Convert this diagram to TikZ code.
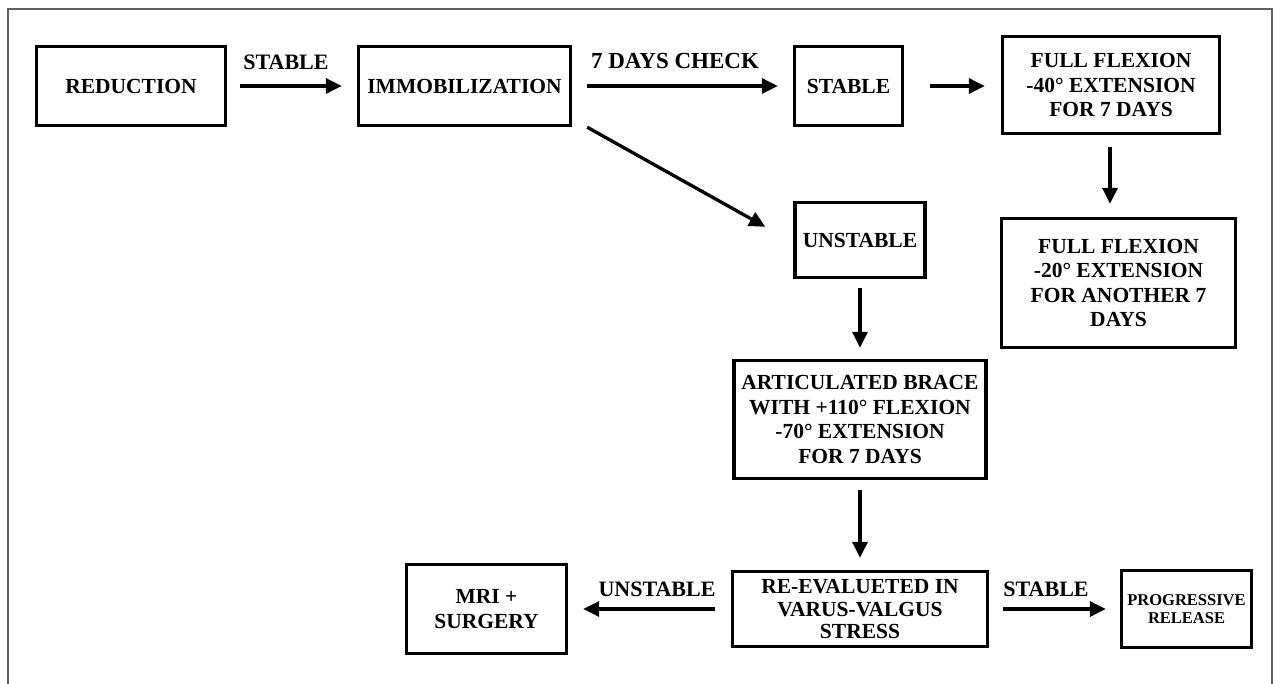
\documentclass[tikz,border=0pt]{standalone}
\usepackage{fontspec}
\setmainfont{Liberation Serif}
\usetikzlibrary{arrows.meta,calc}
\definecolor{framegray}{RGB}{95,95,95}
\begin{document}
\begin{tikzpicture}[x=1pt,y=-1pt,
  box/.style={draw,line width=3.4pt,align=center,inner sep=0pt,
    font=\bfseries\fontsize{21.5}{24.5}\selectfont},
  arr/.style={line width=3.3pt,-{Triangle[length=16pt,width=15pt]}},
  lbl/.style={font=\bfseries\fontsize{22}{24}\selectfont,inner sep=0pt}]
\useasboundingbox (0,0) rectangle (1274,683);
\draw[framegray,line width=1.5pt] (8,690) -- (8,9) -- (1272,9) -- (1272,690);

% boxes
\node[box,minimum width=189pt,minimum height=79pt] (red) at (131,86) {REDUCTION};
\node[box,minimum width=212pt,minimum height=79pt] (imm) at (464.5,86) {IMMOBILIZATION};
\node[box,minimum width=108pt,minimum height=79pt] (stab) at (848.5,86) {STABLE};
\node[box,minimum width=217pt,minimum height=97pt] (ff40) at (1111,85) {FULL FLEXION\\-40° EXTENSION\\FOR 7 DAYS};
\node[box,minimum width=130pt,minimum height=75pt] (unst) at (860,240) {UNSTABLE};
\node[box,minimum width=234pt,minimum height=129pt] (ff20) at (1118.5,283) {FULL FLEXION\\-20° EXTENSION\\FOR ANOTHER 7\\DAYS};
\node[box,minimum width=252pt,minimum height=118pt] (brace) at (860,419.5) {ARTICULATED BRACE\\WITH +110° FLEXION\\-70° EXTENSION\\FOR 7 DAYS};
\node[box,minimum width=255pt,minimum height=75pt,font=\bfseries\fontsize{21.5}{22.5}\selectfont] (reev) at (860,609) {RE-EVALUETED IN\\VARUS-VALGUS\\STRESS};
\node[box,minimum width=160pt,minimum height=89pt] (mri) at (486.5,609) {MRI +\\SURGERY};
\node[box,minimum width=130pt,minimum height=77pt,font=\bfseries\fontsize{16.5}{18.5}\selectfont] (prog) at (1186.5,609) {PROGRESSIVE\\RELEASE};

% connectors
\draw[arr,shorten <=13pt,shorten >=15pt] (red.east) -- (imm.west);
\draw[arr,shorten <=15pt,shorten >=15pt] (imm.east) -- (stab.west);
\draw[arr,shorten <=26pt,shorten >=16pt] (stab.east) -- (stab.east -| ff40.west);
\draw[arr] ($(imm.south east)+(15,0)$) -- ($(unst.north west)+(-28,26)$);
\draw[arr,shorten <=12pt,shorten >=13pt] (ff40.south -| 1110,0) -- (ff20.north -| 1110,0);
\draw[arr,shorten <=9pt,shorten >=11pt] (unst.south) -- (brace.north);
\draw[arr,shorten <=10pt,shorten >=12pt] (brace.south) -- (reev.north);
\draw[arr,shorten <=16pt,shorten >=15pt] (reev.west) -- (mri.east);
\draw[arr,shorten <=14pt,shorten >=14pt] (reev.east) -- (prog.west);

% labels
\node[lbl] (l1) at (286,62) {STABLE};
\node[lbl,font=\bfseries\fontsize{23}{24}\selectfont] (l2) at (675,61) {7 DAYS CHECK};
\node[lbl] (l3) at (657,589) {UNSTABLE};
\node[lbl] (l4) at (1046,589) {STABLE};
\end{tikzpicture}
\end{document}
